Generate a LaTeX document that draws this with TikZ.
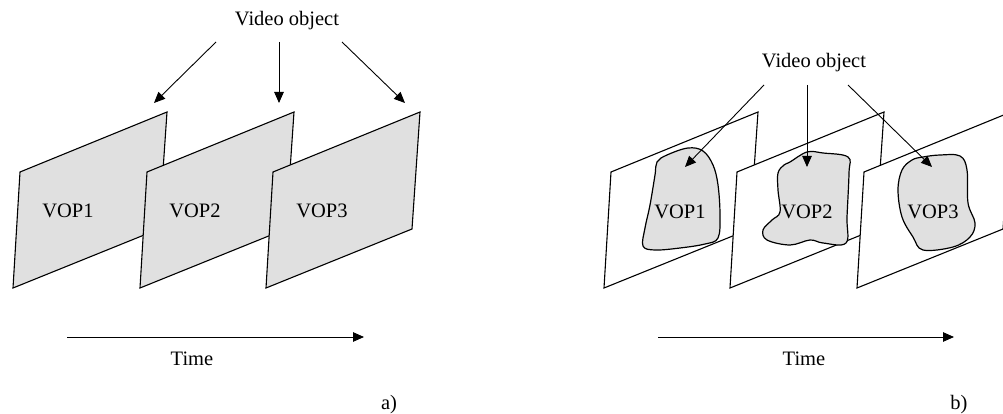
\documentclass[tikz,border=0pt]{standalone}
\usepackage{fontspec}
\setmainfont{Liberation Serif}
\usetikzlibrary{arrows.meta}
\definecolor{vopgray}{RGB}{224,224,224}
\begin{document}
\begin{tikzpicture}[x=1pt,y=-1pt,
  frame/.style={draw=black,line width=1.1pt,line join=miter},
  blob/.style={draw=black,line width=1.2pt,fill=vopgray},
  ptr/.style={draw=black,line width=0.9pt,-{Triangle[length=11pt,width=9.5pt]}},
  lbl/.style={font=\fontsize{20.5}{24}\selectfont,inner sep=0pt},
  txt/.style={font=\fontsize{20.5}{24}\selectfont,inner sep=0pt}]
\useasboundingbox (0,0) rectangle (1003,414);
\clip (0,0) rectangle (1003,414);
\fill[white] (0,0) rectangle (1003,414);
% ---------- a) ----------
\foreach \x/\n in {20/1,147/2,273/3}{
  \path[frame,fill=vopgray] (\x,172) -- ++(147,-60) -- ++(-8,117) -- ++(-146,59) -- cycle;
}
\node[lbl] (va1) at (68,211) {VOP1};
\node[lbl] (va2) at (195,211) {VOP2};
\node[lbl] (va3) at (322,211) {VOP3};
\node[lbl] (voa) at (287,21) {Video object};
\coordinate (a1s) at (216,42); \coordinate (a1e) at (154,103);
\coordinate (a2s) at (279,42); \coordinate (a2e) at (279,103);
\coordinate (a3s) at (342,42); \coordinate (a3e) at (405,103);
\draw[ptr] (a1s) -- (a1e);
\draw[ptr] (a2s) -- (a2e);
\draw[ptr] (a3s) -- (a3e);
\coordinate (ta0) at (67,337); \coordinate (ta1) at (364,337);
\draw[ptr] (ta0) -- (ta1);
\node[txt] (timea) at (192,359) {Time};
\node[txt] (la) at (389,405) {a)};
% ---------- b) ----------
\path[frame,fill=white] (611,172) -- ++(147,-60) -- ++(-8,117) -- ++(-146,59) -- cycle;
\draw[blob] plot[smooth cycle,tension=0.6] coordinates {
  (667,155) (688,148) (703,151) (713,165) (718,185) (720,215) (718,238)
  (705,244) (680,248) (655,250) (643,246) (645,228) (650,205) (655,175) (657,162)};
\path[frame,fill=white] (737,172) -- ++(147,-60) -- ++(-8,117) -- ++(-146,59) -- cycle;
\draw[blob] plot[smooth cycle,tension=0.6] coordinates {
  (790,162) (807,152) (823,153) (848,157) (849,173) (847,217) (846,243)
  (823,243) (810,240) (790,245) (767,240) (763,230) (772,220) (780,212)
  (778,190) (778,173) (784,165)};
\path[frame,fill=white] (864,172) -- ++(147,-60) -- ++(-8,117) -- ++(-146,59) -- cycle;
\draw[blob] plot[smooth cycle,tension=0.6] coordinates {
  (923,157) (940,155) (960,156) (967,170) (968,203) (975,223) (970,237)
  (953,247) (923,250) (913,237) (902,217) (898,190) (902,170) (912,160)};
\node[lbl] (vb1) at (680,212) {VOP1};
\node[lbl] (vb2) at (807,212) {VOP2};
\node[lbl] (vb3) at (933,212) {VOP3};
\node[lbl] (vob) at (814,63) {Video object};
\coordinate (b1s) at (764,85); \coordinate (b1e) at (685,167);
\coordinate (b2s) at (807,85); \coordinate (b2e) at (807,167);
\coordinate (b3s) at (848,85); \coordinate (b3e) at (932,167);
\draw[ptr] (b1s) -- (b1e);
\draw[ptr] (b2s) -- (b2e);
\draw[ptr] (b3s) -- (b3e);
\coordinate (tb0) at (658,337); \coordinate (tb1) at (954,337);
\draw[ptr] (tb0) -- (tb1);
\node[txt] (timeb) at (804,359) {Time};
\node[txt] (lb) at (959,405) {b)};
\end{tikzpicture}
\end{document}
